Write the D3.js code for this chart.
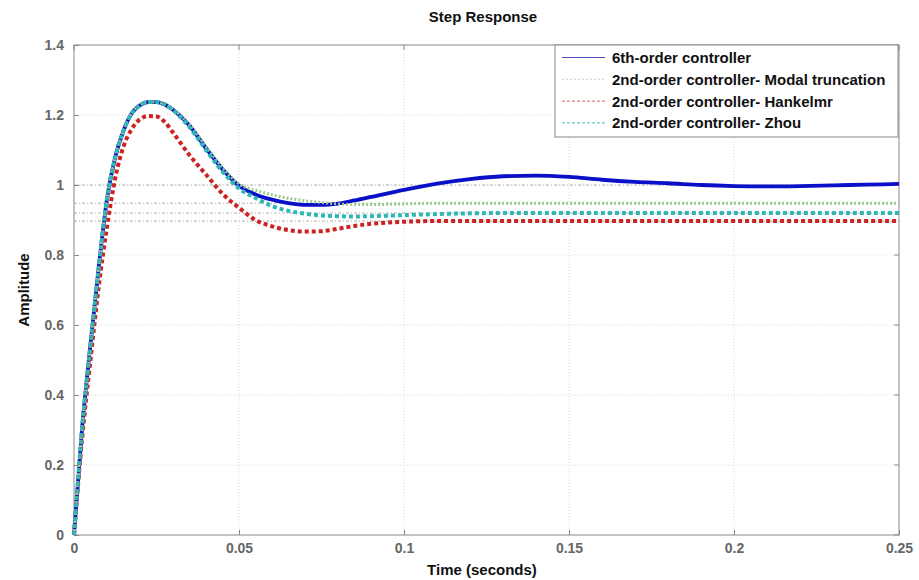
<!DOCTYPE html>
<html lang="en">
<head>
  <meta charset="UTF-8">
  <title>Step Response</title>
  <script src="https://d3js.org/d3.v7.min.js"></script>
  <style>
    body { margin: 0; padding: 0; background: #fff; }
    svg text { font-family: "Liberation Sans", Arial, sans-serif; font-weight: bold; }
    .tick text { fill: #666; font-size: 14px; }
  </style>
</head>
<body>
  <svg id="chart" width="919" height="580"></svg>
  <script>
    // time samples (seconds)
    const time = [0, 0.0025, 0.005, 0.0075, 0.01, 0.0125, 0.015, 0.0175, 0.02, 0.0225, 0.025, 0.0275,
      0.03, 0.035, 0.04, 0.045, 0.05, 0.055, 0.06, 0.065, 0.07, 0.075, 0.08, 0.085, 0.09,
      0.1, 0.11, 0.12, 0.13, 0.14, 0.15, 0.16, 0.17, 0.18, 0.19, 0.2, 0.21, 0.22, 0.23, 0.24, 0.25];

    const sixthOrder = [0, 0.31, 0.545, 0.765, 0.96, 1.08, 1.155, 1.205, 1.228, 1.237, 1.237, 1.23,
      1.215, 1.17, 1.105, 1.045, 0.998, 0.973, 0.958, 0.948, 0.943, 0.943, 0.947, 0.956, 0.966,
      0.986, 1.004, 1.017, 1.025, 1.027, 1.023, 1.015, 1.009, 1.005, 1.0, 0.997, 0.996, 0.997, 0.999, 1.001, 1.003];

    const modalTrunc = [0, 0.31, 0.545, 0.765, 0.96, 1.08, 1.155, 1.205, 1.228, 1.237, 1.237, 1.23,
      1.216, 1.172, 1.11, 1.05, 1.003, 0.985, 0.972, 0.962, 0.955, 0.95, 0.946, 0.944, 0.944,
      0.946, 0.948, 0.948, 0.948, 0.948, 0.948, 0.948, 0.948, 0.948, 0.948, 0.948, 0.948, 0.948, 0.948, 0.948, 0.948];

    const hankelmr = [0, 0.28, 0.5, 0.71, 0.88, 1.02, 1.11, 1.16, 1.188, 1.197, 1.196, 1.18,
      1.15, 1.085, 1.03, 0.975, 0.935, 0.9, 0.882, 0.871, 0.867, 0.868, 0.875, 0.883, 0.889,
      0.895, 0.897, 0.897, 0.897, 0.897, 0.897, 0.897, 0.897, 0.897, 0.897, 0.897, 0.897, 0.897, 0.897, 0.897, 0.897];

    const zhou = [0, 0.31, 0.545, 0.765, 0.96, 1.08, 1.155, 1.205, 1.228, 1.237, 1.237, 1.23,
      1.214, 1.165, 1.1, 1.038, 0.99, 0.963, 0.94, 0.926, 0.918, 0.913, 0.911, 0.91, 0.911,
      0.914, 0.917, 0.919, 0.92, 0.92, 0.92, 0.92, 0.92, 0.92, 0.92, 0.92, 0.92, 0.92, 0.92, 0.92, 0.92];

    const steadyLevels = [1.0, 0.948, 0.92, 0.897];
    const seriesNames = ["6th-order controller", "2nd-order controller- Modal truncation",
      "2nd-order controller- Hankelmr", "2nd-order controller- Zhou"];
    const xTicks = [0, 0.05, 0.1, 0.15, 0.2, 0.25];
    const yTicks = [0, 0.2, 0.4, 0.6, 0.8, 1, 1.2, 1.4];

    const plotL = 74, plotR = 899, plotT = 45, plotB = 535;
    const svg = d3.select("#chart");

    const x = d3.scaleLinear().domain([0, 0.25]).range([plotL, plotR]);
    const y = d3.scaleLinear().domain([0, 1.4]).range([plotB, plotT]);

    // grid
    const grid = svg.append("g");
    grid.selectAll(".gx").data(xTicks.slice(1, -1)).join("line")
      .attr("x1", d => x(d)).attr("x2", d => x(d))
      .attr("y1", plotT).attr("y2", plotB)
      .attr("stroke", "#dcdcdc").attr("stroke-dasharray", "1,2");
    grid.selectAll(".gy").data(yTicks.slice(1, -1)).join("line")
      .attr("x1", plotL).attr("x2", plotR)
      .attr("y1", d => y(d)).attr("y2", d => y(d))
      .attr("stroke", "#dcdcdc").attr("stroke-dasharray", "1,2");

    // steady-state lines
    svg.append("g").selectAll("line").data(steadyLevels).join("line")
      .attr("x1", plotL).attr("x2", plotR)
      .attr("y1", d => y(d)).attr("y2", d => y(d))
      .attr("stroke", "#b0b0b0").attr("stroke-width", 1)
      .attr("stroke-dasharray", "3,2,1,2");

    // axes (ticks point inward like matlab)
    const xAxis = svg.append("g")
      .attr("transform", `translate(0,${plotB})`)
      .call(d3.axisBottom(x).tickValues(xTicks).tickFormat(d => d3.format("~g")(d)).tickSize(-5).tickPadding(8));
    const yAxis = svg.append("g")
      .attr("transform", `translate(${plotL},0)`)
      .call(d3.axisLeft(y).tickValues(yTicks).tickFormat(d => d3.format("~g")(d)).tickSize(-5).tickPadding(10));
    [xAxis, yAxis].forEach(a => {
      a.select(".domain").remove();
      a.selectAll(".tick line").attr("stroke", "#888");
    });

    // top / right ticks
    svg.append("g").selectAll("line").data(xTicks).join("line")
      .attr("x1", d => x(d)).attr("x2", d => x(d)).attr("y1", plotT).attr("y2", plotT + 5).attr("stroke", "#888");
    svg.append("g").selectAll("line").data(yTicks).join("line")
      .attr("x1", plotR - 5).attr("x2", plotR).attr("y1", d => y(d)).attr("y2", d => y(d)).attr("stroke", "#888");

    // box
    svg.append("rect")
      .attr("x", plotL).attr("y", plotT)
      .attr("width", plotR - plotL).attr("height", plotB - plotT)
      .attr("fill", "none").attr("stroke", "#888");

    // series
    const styles = [
      { data: sixthOrder, color: "#0a10c8", width: 3.8, dash: null, legendColor: "#4a4ab8", legendDash: null },
      { data: modalTrunc, color: "#9ccb8e", width: 3, dash: "2,2", legendColor: "#c8d0c8", legendDash: "2,2" },
      { data: hankelmr, color: "#cc2222", width: 4, dash: "4,3", legendColor: "#d06060", legendDash: "3,2" },
      { data: zhou, color: "#2fb6b6", width: 4, dash: "4,3", legendColor: "#40b8c0", legendDash: "3,2" }
    ];

    const line = d3.line()
      .x((d, i) => x(time[i]))
      .y(d => y(d))
      .curve(d3.curveMonotoneX);

    styles.forEach(s => {
      svg.append("path")
        .attr("d", line(s.data))
        .attr("fill", "none")
        .attr("stroke", s.color)
        .attr("stroke-width", s.width)
        .attr("stroke-dasharray", s.dash);
    });

    // legend
    const lg = svg.append("g");
    lg.append("rect")
      .attr("x", 555).attr("y", 45).attr("width", 343).attr("height", 92)
      .attr("fill", "#fff").attr("stroke", "#888");
    seriesNames.forEach((name, i) => {
      const by = 63 + i * 21.8;
      lg.append("line")
        .attr("x1", 562).attr("x2", 605)
        .attr("y1", by - 5.5).attr("y2", by - 5.5)
        .attr("stroke", styles[i].legendColor)
        .attr("stroke-width", 1)
        .attr("stroke-dasharray", styles[i].legendDash);
      lg.append("text")
        .attr("x", 612).attr("y", by)
        .attr("font-size", 15)
        .attr("fill", "#111")
        .text(name);
    });

    // titles
    svg.append("text")
      .attr("x", 483).attr("y", 22)
      .attr("text-anchor", "middle").attr("font-size", 15).attr("fill", "#111")
      .text("Step Response");
    svg.append("text")
      .attr("x", 482).attr("y", 575)
      .attr("text-anchor", "middle").attr("font-size", 15).attr("fill", "#111")
      .text("Time (seconds)");
    svg.append("text")
      .attr("transform", "translate(29,290) rotate(-90)")
      .attr("text-anchor", "middle").attr("font-size", 15).attr("fill", "#111")
      .text("Amplitude");
  </script>
</body>
</html>
